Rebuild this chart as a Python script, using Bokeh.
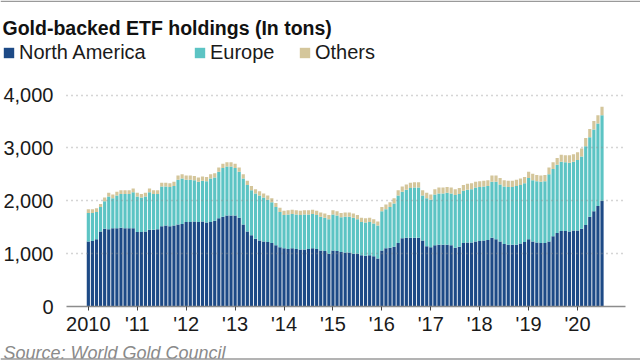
from bokeh.plotting import figure
from bokeh.layouts import column
from bokeh.models import (Range1d, FixedTicker, Legend, LegendItem, Label, Span,
                          NumeralTickFormatter, ColumnDataSource)
from bokeh.embed import file_html
from bokeh.resources import INLINE

# ---- data (tons), monthly Jan 2010 .. Jul 2020 ----
north_america = [
    1230, 1240, 1270, 1420, 1470, 1460, 1480, 1480, 1490, 1480, 1480, 1480,  # 2010
    1410, 1410, 1420, 1450, 1450, 1460, 1520, 1530, 1520, 1530, 1550, 1560,  # 2011
    1600, 1600, 1610, 1600, 1610, 1590, 1600, 1620, 1670, 1700, 1720, 1720,  # 2012
    1720, 1680, 1550, 1420, 1350, 1280, 1250, 1230, 1220, 1200, 1160, 1120,  # 2013
    1100, 1090, 1100, 1090, 1080, 1080, 1090, 1100, 1090, 1060, 1050, 1000,  # 2014
    1060, 1050, 1030, 1020, 1020, 1000, 1000, 970, 960, 970, 950, 910,       # 2015
    1060, 1100, 1110, 1130, 1200, 1290, 1300, 1300, 1300, 1300, 1250, 1140,  # 2016
    1120, 1160, 1170, 1170, 1170, 1160, 1110, 1130, 1200, 1210, 1210, 1230,  # 2017
    1240, 1250, 1260, 1300, 1270, 1230, 1180, 1170, 1170, 1170, 1190, 1220,  # 2018
    1270, 1230, 1210, 1200, 1200, 1230, 1330, 1390, 1430, 1430, 1420, 1440,  # 2019
    1440, 1470, 1540, 1700, 1800, 1900, 2000,                                # 2020
]
europe = [
    540, 530, 520, 460, 520, 620, 570, 620, 640, 650, 650, 680,
    670, 650, 660, 710, 680, 670, 750, 740, 740, 750, 850, 860,
    800, 800, 780, 760, 770, 780, 820, 820, 880, 920, 930, 930,
    900, 870, 870, 880, 850, 860, 850, 830, 800, 770, 720, 670,
    630, 650, 650, 650, 650, 660, 650, 650, 640, 640, 630, 650,
    680, 670, 660, 680, 680, 680, 650, 630, 630, 630, 620, 620,
    740, 740, 770, 820, 900, 880, 910, 940, 950, 950, 850, 910,
    900, 960, 970, 970, 980, 980, 1000, 1000, 990, 1000, 1010, 1020,
    1020, 1020, 1020, 1060, 1090, 1080, 1090, 1090, 1090, 1110, 1110, 1110,
    1160, 1160, 1160, 1160, 1170, 1270, 1270, 1290, 1310, 1300, 1300, 1300,
    1330, 1370, 1490, 1500, 1550, 1560, 1620,
]
others = [
    70, 70, 70, 60, 70, 70, 70, 70, 70, 70, 70, 70,
    70, 70, 70, 70, 70, 70, 70, 70, 70, 80, 80, 80,
    80, 80, 80, 80, 80, 80, 80, 80, 80, 80, 80, 80,
    80, 80, 80, 80, 80, 80, 80, 80, 80, 80, 80, 80,
    80, 80, 80, 80, 80, 80, 80, 80, 80, 80, 80, 80,
    80, 80, 80, 80, 80, 80, 80, 80, 80, 80, 80, 80,
    80, 90, 90, 100, 100, 100, 100, 100, 100, 100, 100, 100,
    100, 100, 110, 110, 110, 110, 110, 110, 110, 110, 110, 110,
    110, 110, 110, 120, 120, 120, 120, 120, 120, 120, 120, 120,
    120, 120, 120, 120, 120, 130, 130, 130, 130, 130, 140, 140,
    150, 150, 160, 160, 160, 160, 160,
]
series_names = ["North America", "Europe", "Others"]
series_colors = ["#1d4a86", "#5cc4c4", "#d4c69b"]
years = list(range(2010, 2021))
year_labels = ["2010", "'11", "'12", "'13", "'14", "'15", "'16", "'17", "'18", "'19", "'20"]
y_ticks = [0, 1000, 2000, 3000, 4000]
title_text = "Gold-backed ETF holdings (In tons)"
source_text = "Source: World Gold Council"

FONT = "Liberation Sans"
W = 640


def bare(fig):
    fig.axis.visible = False
    fig.grid.visible = False
    fig.outline_line_color = None
    fig.min_border = 0
    fig.min_border_left = 0
    fig.min_border_right = 0
    fig.min_border_top = 0
    fig.min_border_bottom = 0
    fig.frame_align = False
    fig.background_fill_color = "white"
    fig.border_fill_color = "white"
    return fig


# ---------- header: title + legend ----------
H_HEAD = 66
hdr = bare(figure(width=W, height=H_HEAD, output_backend="svg", toolbar_location=None,
                  x_range=Range1d(0, W), y_range=Range1d(H_HEAD, 0)))
hdr.add_layout(Span(location=0.8, dimension="width", line_color="#9a9a9a", line_width=1.5))
hdr.add_layout(Label(x=2, y=27, text=title_text, text_font=FONT, text_font_style="bold",
                     text_font_size="19.5px", text_color="#111111",
                     text_baseline="alphabetic"))
legend_x = [2, 193, 298]
for name, col, lx in zip(series_names, series_colors, legend_x):
    # off-screen swatch renderer, used only to draw the legend key
    swatch = hdr.vbar(x=[-1000], top=[0], width=1, fill_color=col, line_color=None)
    lg = Legend(items=[LegendItem(label=name, renderers=[swatch])],
                location=(lx, 2), orientation="horizontal",
                glyph_width=13, glyph_height=13, label_standoff=4,
                label_text_font=FONT, label_text_font_size="20px",
                label_text_color="#1a1a1a",
                padding=0, margin=0, spacing=0,
                border_line_color=None, background_fill_alpha=0)
    hdr.add_layout(lg, "center")

# ---------- main chart ----------
month = list(range(len(north_america)))
source = ColumnDataSource(dict(month=month, na=north_america, eu=europe, ot=others))

H_MAIN = 271
p = figure(width=W, height=H_MAIN, output_backend="svg", toolbar_location=None,
           x_range=Range1d(-5.36, 131.76), y_range=Range1d(0, 4370),
           min_border_left=62, min_border_right=15, min_border_top=9,
           min_border_bottom=29)
p.frame_align = False
p.outline_line_color = None
p.background_fill_color = "white"
p.border_fill_color = "white"

rs = p.vbar_stack(["na", "eu", "ot"], x="month", width=0.78, source=source,
                  fill_color=series_colors, line_color=None)

tick_pos = [12 * (y - 2010) for y in years]
p.xaxis.ticker = FixedTicker(ticks=tick_pos)
p.xaxis.major_label_overrides = {t: lab for t, lab in zip(tick_pos, year_labels)}
p.xaxis.axis_line_color = "#8c8c8c"
p.xaxis.axis_line_width = 1.5
p.xaxis.major_tick_line_color = "#444444"
p.xaxis.major_tick_out = 4
p.xaxis.major_tick_in = 0
p.xaxis.minor_tick_line_color = None
p.xaxis.major_label_standoff = 2
p.xaxis.major_label_text_font = FONT
p.xaxis.major_label_text_font_size = "20px"
p.xaxis.major_label_text_color = "#1a1a1a"

p.yaxis.ticker = FixedTicker(ticks=y_ticks)
p.yaxis.formatter = NumeralTickFormatter(format="0,0")
p.yaxis.axis_line_color = None
p.yaxis.major_tick_line_color = None
p.yaxis.minor_tick_line_color = None
p.yaxis.major_label_standoff = 7
p.yaxis.major_label_text_font = FONT
p.yaxis.major_label_text_font_size = "20px"
p.yaxis.major_label_text_color = "#1a1a1a"

p.xgrid.grid_line_color = None
p.ygrid.grid_line_color = "#8a8a8a"
p.ygrid.grid_line_alpha = 0.7
p.ygrid.grid_line_dash = "1 4"
p.ygrid.grid_line_width = 1.5
p.ygrid.level = "overlay"

# ---------- footer: source ----------
H_FOOT = 24
ftr = bare(figure(width=W, height=H_FOOT, output_backend="svg", toolbar_location=None,
                  x_range=Range1d(0, W), y_range=Range1d(H_FOOT, 0)))
ftr.add_layout(Label(x=3, y=15, text=source_text, text_font=FONT,
                     text_font_style="italic", text_font_size="18px",
                     text_color="#8a8a8a", text_baseline="alphabetic"))
ftr.add_layout(Span(location=21.5, dimension="width", line_color="#9a9a9a", line_width=1.5))

layout = column(hdr, p, ftr, spacing=0)
open("out.html", "w").write(file_html(layout, INLINE))
